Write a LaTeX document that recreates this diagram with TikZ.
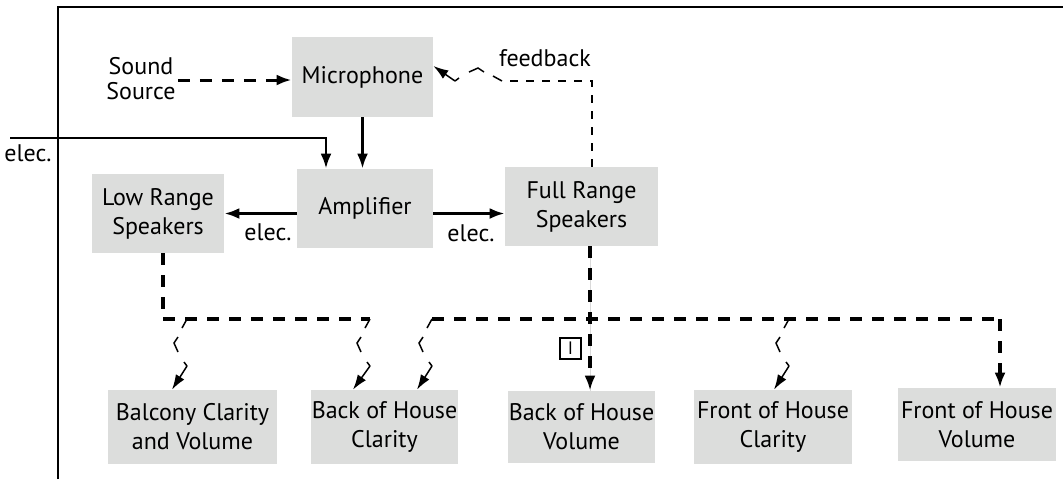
\documentclass[tikz,border=0pt]{standalone}
\usepackage{fontspec}
\setmainfont{PT Sans}
\usetikzlibrary{calc,arrows.meta}
\definecolor{boxgray}{RGB}{220,221,220}
% zigzag sound path: start, turn, end point
\newcommand\soundwave[3]{%
	\begin{scope}[shift={(#1)},rotate=#2]
		\draw[wave] (0,0) -- (-5,9) (-9,18) -- (-13,24) -- (-9,33) (-3,43) -- (0,47) coordinate (wv);
	\end{scope}
	\draw[wave,-{Latex[length=7.5pt,width=5pt]}] (wv) -- #3;}

\begin{document}
\begin{tikzpicture}[x=0.5pt,y=-0.5pt,
	box/.style={fill=boxgray,inner sep=0pt,align=center,font=\fontsize{12}{14.5}\selectfont},
	lbl/.style={inner sep=1pt,align=center,font=\fontsize{12}{14.5}\selectfont},
	elec/.style={line width=1.4pt},
	arrowhd/.style={-{Latex[length=7.5pt,width=5.5pt]}},
	sounddash/.style={line width=1.7pt,dash pattern=on 6pt off 5pt},
	fbdash/.style={line width=0.7pt,dash pattern=on 4pt off 4pt},
	wave/.style={line width=0.75pt}]
		%%%%% START %%%%%
		\useasboundingbox (0,0) rectangle (1063,479);
		\draw[line width=0.8pt] (58,479) -- (58,7) -- (1063,7);
		
		\node[box,minimum width=70.5pt,minimum height=40pt] (mic) at (362.5,77) {Microphone};
		\node[box,minimum width=68pt,minimum height=39.5pt] (amp) at (365,208.5) {Amplifier};
		\node[box,minimum width=66pt,minimum height=39.5pt] (lowr) at (158,213.5) {Low Range\\Speakers};
		\node[box,minimum width=76.5pt,minimum height=39.5pt] (full) at (581.5,206.5) {Full Range\\Speakers};
		
		\node[box,minimum width=84.5pt,minimum height=37pt] (bal) at (192.5,427) {Balcony Clarity\\and Volume};
		\node[box,minimum width=73.5pt,minimum height=37pt] (bohc) at (384.5,427) {Back of House\\Clarity};
		\node[box,minimum width=73.5pt,minimum height=36pt] (bohv) at (581.5,427) {Back of House\\Volume};
		\node[box,minimum width=79pt,minimum height=37pt] (fohc) at (773,427) {Front of House\\Clarity};
		\node[box,minimum width=79pt,minimum height=36.5pt] (fohv) at (977,424.5) {Front of House\\Volume};
		
		\node[lbl,font=\fontsize{12}{12.5}\selectfont] (src) at (141,79) {Sound\\Source};
		\node[lbl] (fb) at (545,58) {feedback};
		\node[lbl] (el1) at (28,153) {elec.};
		\node[lbl] (el2) at (268,232) {elec.};
		\node[lbl] (el3) at (471,233) {elec.};
		\node[draw,line width=0.6pt,minimum size=10.5pt,inner sep=0pt,font=\fontsize{9}{9}\selectfont] (lock) at (570.5,348.5) {I};
		
		% electric lines
		\coordinate (elecin) at (10,138);
		\coordinate (ampin) at (326,138);
		\draw[elec,arrowhd] (elecin) -- (ampin) -- (amp.north -| ampin);
		\draw[elec,arrowhd] (mic.south) -- (mic.south |- amp.north);
		\draw[elec,arrowhd] (amp.west |- lowr.east) -- (lowr.east);
		\draw[elec,arrowhd] (amp.east |- lowr.east) -- (full.west |- lowr.east);
		
		% sound lines
		\draw[sounddash,arrowhd,line width=1.5pt] (src.east |- 0,80) -- (mic.west |- 0,80);
		\coordinate (lowdrop) at (163,319);
		\coordinate (w1) at (187,319);
		\coordinate (w2) at (370,319);
		\coordinate (w3) at (432,319);
		\coordinate (w4) at (789,319);
		\coordinate (busend) at (1000,319);
		\coordinate (fulldrop) at (590,319);
		\draw[sounddash] (lowr.south -| lowdrop) -- (lowdrop) -- (w2);
		\draw[sounddash] (w3) -- (busend);
		\draw[sounddash,arrowhd] (busend) -- (fohv.north -| busend);
		\draw[gray!30,line width=0.5pt] (full.south -| fulldrop) -- (bohv.north -| fulldrop);
		\draw[sounddash,arrowhd] (full.south -| fulldrop) -- (bohv.north -| fulldrop);
		
		\coordinate (t1) at ($(w1)+(-15,0)$);
		\coordinate (t2) at ($(w2)+(-17,0)$);
		\coordinate (t3) at ($(w3)+(-15,0)$);
		\coordinate (t4) at ($(w4)+(-15,0)$);
		\soundwave{w1}{0}{(t1 |- bal.north)}
		\soundwave{w2}{0}{(t2 |- bohc.north)}
		\soundwave{w3}{0}{(t3 |- bohc.north)}
		\soundwave{w4}{0}{(t4 |- fohc.north)}
		
		% feedback
		\coordinate (fbcorner) at (592,81);
		\coordinate (fbend) at (502,81);
		\draw[fbdash] (full.north -| fbcorner) -- (fbcorner) -- (fbend);
		\soundwave{fbend}{-90}{($(mic.east)+(0,-11)$)}
		%%%%% END %%%%%
\end{tikzpicture}
\end{document}
